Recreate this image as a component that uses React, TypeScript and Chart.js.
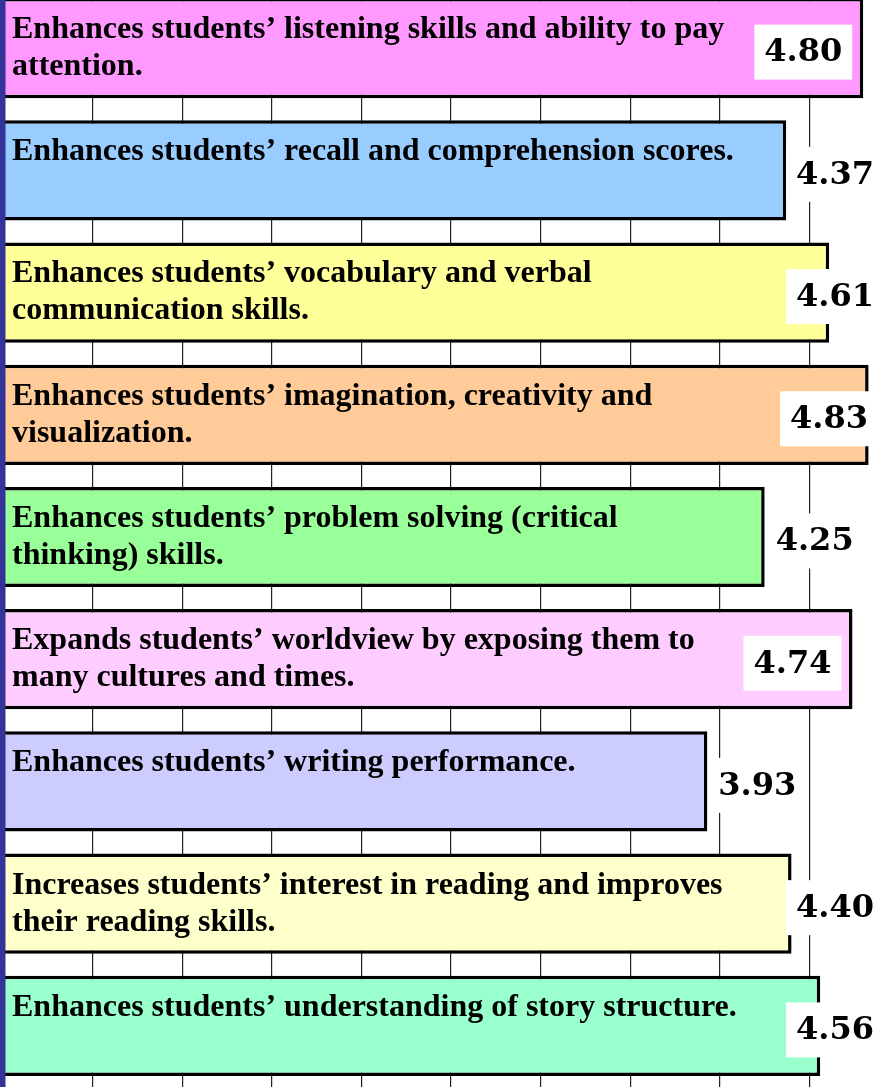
import React, { useEffect, useRef } from "react";
import { Chart, registerables } from "chart.js";

Chart.register(...registerables);

const categories: string[][] = [
  ["Enhances students’ listening skills and ability to pay", "attention."],
  ["Enhances students’ recall and comprehension scores."],
  ["Enhances students’ vocabulary and verbal", "communication skills."],
  ["Enhances students’ imagination, creativity and", "visualization."],
  ["Enhances students’ problem solving (critical", "thinking) skills."],
  ["Expands students’ worldview by exposing them to", "many cultures and times."],
  ["Enhances students’ writing performance."],
  ["Increases students’ interest in reading and improves", "their reading skills."],
  ["Enhances students’ understanding of story structure."],
];

const values: number[] = [4.8, 4.37, 4.61, 4.83, 4.25, 4.74, 3.93, 4.4, 4.56];

const barColors: string[] = [
  "#FF99FF",
  "#99CCFF",
  "#FFFF99",
  "#FFCC99",
  "#99FF99",
  "#FFCCFF",
  "#CCCCFF",
  "#FFFFCC",
  "#99FFCC",
];

const xMin = 0;
const xMax = 4.86;
const xStep = 0.5;

const textPlugin = {
  id: "barTexts",
  afterDatasetsDraw(chart: any) {
    const ctx = chart.ctx;
    const meta = chart.getDatasetMeta(0);
    const area = chart.chartArea;
    ctx.save();
    // left axis line
    ctx.fillStyle = "#333399";
    ctx.fillRect(0, area.top, 5.5, area.bottom - area.top);

    meta.data.forEach((el: any, i: number) => {
      const top = el.y - el.height / 2;
      // category text
      ctx.font = 'bold 32px "Liberation Serif", "Times New Roman", serif';
      ctx.fillStyle = "#000";
      ctx.textAlign = "left";
      ctx.textBaseline = "alphabetic";
      const lines = categories[i];
      lines.forEach((line, k) => {
        ctx.fillText(line, 12, top + 40 + k * 37);
      });

      // value label
      const label = values[i].toFixed(2);
      ctx.font = 'bold 32px "DejaVu Serif", serif';
      const tw = ctx.measureText(label).width;
      const boxW = tw + 20;
      const boxH = 55;
      const end = el.x;
      let cx: number;
      if (end >= area.right - 10) {
        cx = chart.width - boxW / 2 + 4;
      } else if (end > 845) {
        cx = end - 60;
      } else {
        cx = Math.min(end + 50, 835);
      }
      const cy = el.y + 4;
      ctx.fillStyle = "#ffffff";
      ctx.fillRect(cx - boxW / 2, cy - boxH / 2, boxW, boxH);
      ctx.fillStyle = "#000";
      ctx.textAlign = "center";
      ctx.textBaseline = "middle";
      ctx.fillText(label, cx, cy + 1);
    });
    ctx.restore();
  },
};

export default function App() {
  const ref = useRef<HTMLCanvasElement | null>(null);

  useEffect(() => {
    document.body.style.margin = "0";
    const canvas = ref.current;
    if (!canvas) return;
    const chart = new Chart(canvas, {
      type: "bar",
      data: {
        labels: categories,
        datasets: [
          {
            data: values,
            backgroundColor: barColors,
            borderColor: "#000000",
            borderWidth: 3.5,
            borderSkipped: "start",
            barPercentage: 1,
            categoryPercentage: 0.82,
          },
        ],
      },
      options: {
        indexAxis: "y",
        responsive: false,
        animation: false,
        layout: { padding: { left: 3, right: 0, top: 0, bottom: 0 } },
        plugins: {
          legend: { display: false },
          tooltip: { enabled: false },
          title: { display: false },
        },
        scales: {
          x: {
            min: xMin,
            max: xMax,
            ticks: { display: false, stepSize: xStep, includeBounds: false },
            grid: {
              drawTicks: false,
              color: (c: any) => (c.tick && c.tick.value === 0 ? "rgba(0,0,0,0)" : "#222222"),
              lineWidth: 1.2,
            },
            border: { display: false },
          },
          y: {
            display: false,
          },
        },
      },
      plugins: [textPlugin],
    });
    return () => chart.destroy();
  }, []);

  return (
    <div style={{ width: 874, height: 1087, overflow: "hidden", position: "relative", background: "#fff" }}>
      <canvas
        ref={ref}
        width={874}
        height={1100}
        style={{ position: "absolute", top: -13, left: 0, width: 874, height: 1100 }}
      />
    </div>
  );
}
